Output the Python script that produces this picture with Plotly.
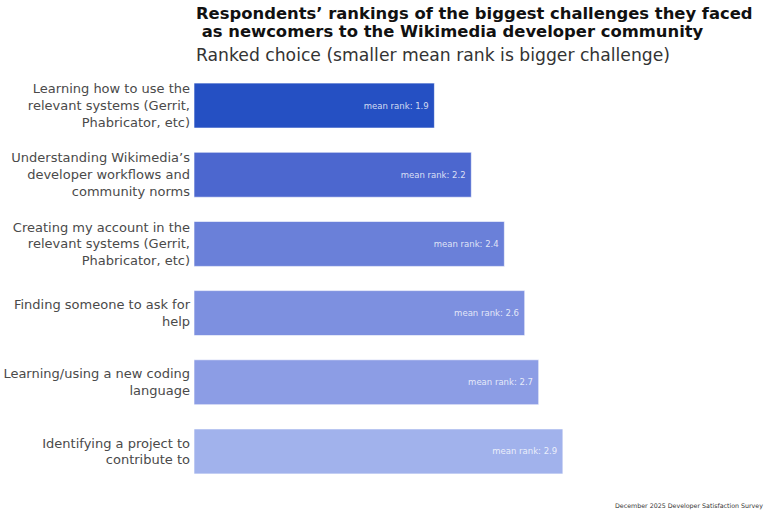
import plotly.graph_objects as go

categories = [
    "Learning how to use the<br>relevant systems (Gerrit,<br>Phabricator, etc)",
    "Understanding Wikimedia’s<br>developer workflows and<br>community norms",
    "Creating my account in the<br>relevant systems (Gerrit,<br>Phabricator, etc)",
    "Finding someone to ask for<br>help",
    "Learning/using a new coding<br>language",
    "Identifying a project to<br>contribute to",
]
mean_rank = [1.89, 2.18, 2.44, 2.60, 2.71, 2.90]
bar_colors = ["#2550c3", "#4c67cf", "#6a80d9", "#7d90e0", "#8c9de5", "#a1b2ec"]

FONT = "DejaVu Sans"

fig = go.Figure(go.Bar(
    x=mean_rank,
    y=categories,
    orientation="h",
    marker=dict(color=bar_colors, line=dict(color="rgba(255,255,255,0.6)", width=1)),
    width=0.65,
    text=[f"mean rank: {v:.1f}\u00a0" for v in mean_rank],
    textposition="inside",
    insidetextanchor="end",
    textfont=dict(family=FONT, size=8.5, color="rgba(255,255,255,0.8)"),
    hoverinfo="skip",
))

fig.update_layout(
    width=768, height=512,
    margin=dict(l=194, r=10, t=71, b=26),
    paper_bgcolor="white", plot_bgcolor="white",
    showlegend=False,
    xaxis=dict(range=[0, 564 / 127.2], visible=False, fixedrange=True),
    yaxis=dict(autorange="reversed", showgrid=False, showline=False, ticks="",
               automargin=False,
               tickfont=dict(family=FONT, size=13, color="#4a4a4a"),
               ticklabelstandoff=3, fixedrange=True),
    annotations=[
        dict(text="<b>Respondents’ rankings of the biggest challenges they faced</b>",
             xref="paper", yref="paper", x=0, y=1, yshift=58,
             xanchor="left", yanchor="middle", align="left", showarrow=False,
             font=dict(family=FONT, size=16.4, color="#111111")),
        dict(text="<b> as newcomers to the Wikimedia developer community</b>",
             xref="paper", yref="paper", x=0, y=1, yshift=40,
             xanchor="left", yanchor="middle", align="left", showarrow=False,
             font=dict(family=FONT, size=16.4, color="#111111")),
        dict(text="Ranked choice (smaller mean rank is bigger challenge)",
             xref="paper", yref="paper", x=0, y=1, yshift=16,
             xanchor="left", yanchor="middle", align="left", showarrow=False,
             font=dict(family=FONT, size=17.2, color="#333333")),
        dict(text="December 2025 Developer Satisfaction Survey",
             xref="paper", yref="paper", x=1, y=0, yshift=-20, xshift=7,
             xanchor="right", yanchor="middle", showarrow=False,
             font=dict(family=FONT, size=6.3, color="#333333")),
    ],
)

fig.write_html("out.html", config={"displayModeBar": False},
               post_script="document.body.style.margin='0';")
